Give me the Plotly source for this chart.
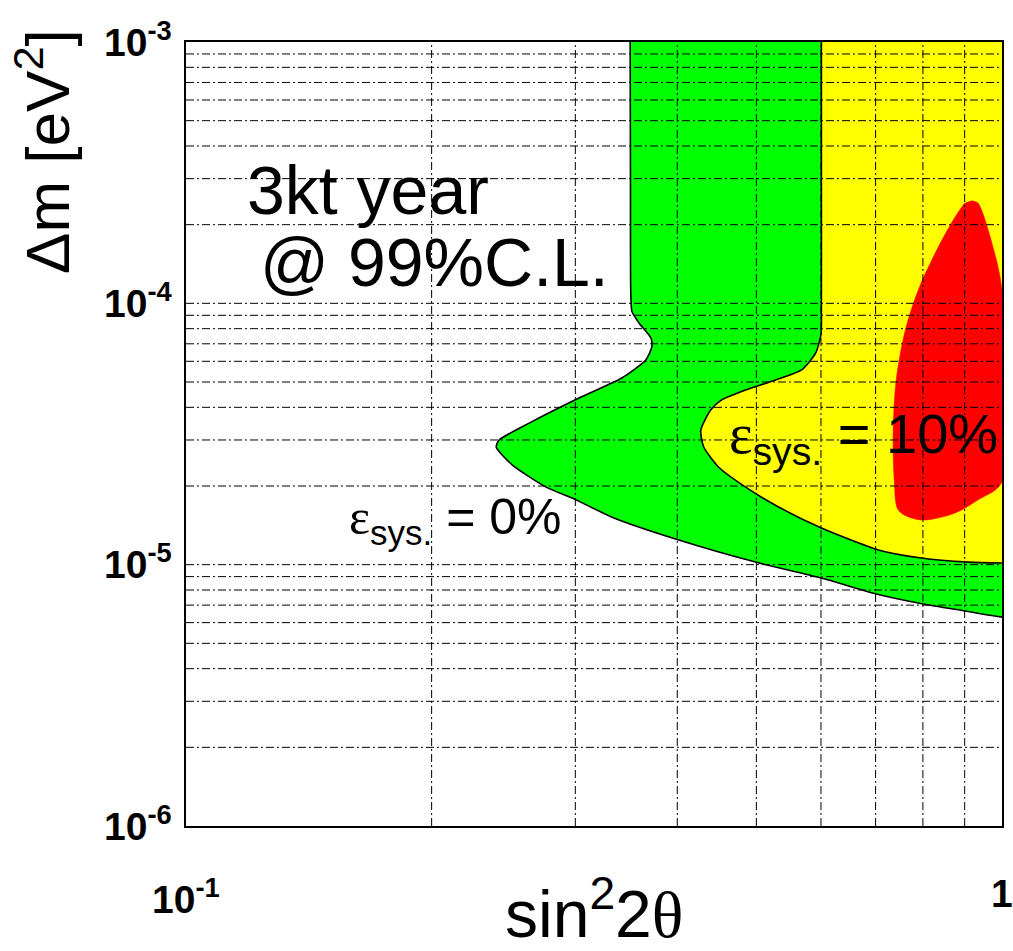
import numpy as np
import plotly.graph_objects as go

# Exclusion contours in the (sin^2 2theta, delta m^2) plane, 3 kt year, 99% C.L.
# 0% systematic error contour (green)
sys0_x = [0.350, 0.3505, 0.3508, 0.3520, 0.359, 0.3713, 0.3723, 0.366, 0.342, 0.3031,
          0.2634, 0.2420, 0.2400, 0.2510, 0.2763, 0.3006, 0.3327, 0.4018, 0.4989,
          0.6007, 0.7015, 0.8006, 0.9011, 1.0, 1.4, 1.4]
sys0_y = [2.0e-3, 3.0e-4, 1.10e-4, 9.3e-5, 8.41e-5, 7.37e-5, 6.81e-5, 6.07e-5, 5.18e-5,
          4.34e-5, 3.48e-5, 3.00e-5, 2.82e-5, 2.41e-5, 1.98e-5, 1.77e-5, 1.52e-5,
          1.243e-5, 1.023e-5, 8.89e-6, 7.72e-6, 7.07e-6, 6.65e-6, 6.30e-6, 6.0e-6, 2.0e-3]

# 10% systematic error contour (yellow)
sys10_x = [0.6007, 0.6007, 0.6007, 0.6000, 0.591, 0.568, 0.5278, 0.4851, 0.4534, 0.4395,
           0.4274, 0.4310, 0.4496, 0.4851, 0.5323, 0.6007, 0.7054, 0.7962, 0.9088,
           1.0, 1.4, 1.4]
sys10_y = [2.0e-3, 3.0e-4, 1.0e-4, 7.6e-5, 6.45e-5, 5.56e-5, 5.09e-5, 4.66e-5, 4.27e-5,
           3.91e-5, 3.27e-5, 2.82e-5, 2.36e-5, 1.98e-5, 1.662e-5, 1.381e-5, 1.138e-5,
           1.060e-5, 1.023e-5, 1.015e-5, 1.01e-5, 2.0e-3]

# Best-fit island (red)
best_x = [0.9165, 0.9330, 0.9426, 0.9696, 1.0, 1.0, 0.9348, 0.8760, 0.8051, 0.7742,
          0.7461, 0.7378, 0.7356, 0.7419, 0.7613, 0.7895, 0.8354, 0.8760, 0.900]
best_y = [2.47e-4, 2.43e-4, 2.30e-4, 1.747e-4, 1.124e-4, 2.072e-5, 1.77e-5, 1.576e-5,
          1.482e-5, 1.509e-5, 1.619e-5, 2.109e-5, 3.27e-5, 5.09e-5, 7.90e-5,
          1.124e-4, 1.642e-4, 2.14e-4, 2.42e-4]

# Axis ranges, grid and tick labels
x_range = [0.1, 1.0]
y_range = [1e-6, 1e-3]
x_grid = [0.2, 0.3, 0.4, 0.5, 0.6, 0.7, 0.8, 0.9]
y_grid = [m * 10.0 ** e for e in (-6, -5, -4) for m in range(1, 10)][1:]
x_tick_vals = [0.1, 1.0]
x_tick_text = ["10<sup>-1</sup>", "1"]
y_tick_vals = [1e-3, 1e-4, 1e-5, 1e-6]
y_tick_text = ["10<sup>-3</sup>", "10<sup>-4</sup>", "10<sup>-5</sup>", "10<sup>-6</sup>"]

SANS = "Liberation Sans, Arial, sans-serif"
GREEK = "font-family:'Liberation Serif', serif"

fig = go.Figure()

fig.add_trace(go.Scatter(x=sys0_x, y=sys0_y, mode="lines", fill="toself",
                         fillcolor="#00ff00", line=dict(color="black", width=1.6,
                         shape="spline", smoothing=0.6), hoverinfo="skip"))
fig.add_trace(go.Scatter(x=sys10_x, y=sys10_y, mode="lines", fill="toself",
                         fillcolor="#ffff00", line=dict(color="black", width=1.6,
                         shape="spline", smoothing=0.6), hoverinfo="skip"))
fig.add_trace(go.Scatter(x=best_x, y=best_y, mode="lines", fill="toself",
                         fillcolor="#ff0000", line=dict(color="#ff0000", width=0.5,
                         shape="spline", smoothing=0.9), hoverinfo="skip"))

# dash-dot grid drawn over the filled contours
gx, gy = [], []
for v in x_grid:
    gx += [v, v, None]
    gy += [y_range[0], y_range[1], None]
fig.add_trace(go.Scatter(x=gx, y=gy, mode="lines", hoverinfo="skip",
                         line=dict(color="black", width=1, dash="8px,3px,2px,3px")))
hx, hy = [], []
for v in y_grid:
    hx += [x_range[0], x_range[1], None]
    hy += [v, v, None]
fig.add_trace(go.Scatter(x=hx, y=hy, mode="lines", hoverinfo="skip",
                         line=dict(color="black", width=1, dash="8px,3px,2px,3px")))

annotations = []
for v, t in zip(y_tick_vals, y_tick_text):
    annotations.append(dict(xref="paper", x=0, yref="y", y=np.log10(v), text=t,
                            xanchor="right", yanchor="middle", xshift=-12, yshift=3,
                            showarrow=False,
                            font=dict(family=SANS, size=39, color="black", weight="bold")))
for v, t in zip(x_tick_vals, x_tick_text):
    annotations.append(dict(xref="x", x=np.log10(v), yref="paper", y=0, text=t,
                            xanchor="center", yanchor="top", yshift=-44,
                            showarrow=False,
                            font=dict(family=SANS, size=39, color="black", weight="bold")))

annotations += [
    dict(xref="paper", yref="paper", x=0.5, y=-0.106, text=f"sin<sup>2</sup>2<span style=\"{GREEK}\">θ</span>",
         xanchor="center", yanchor="middle", showarrow=False,
         font=dict(family=SANS, size=66, color="black")),
    dict(xref="paper", yref="paper", x=-0.175, y=0.86, text="Δm [eV<sup>2</sup>]",
         textangle=-90, xanchor="center", yanchor="middle", showarrow=False,
         font=dict(family=SANS, size=62, color="black")),
    dict(xref="paper", yref="paper", x=0.072, y=0.811, text="3kt year",
         xanchor="left", yanchor="middle", showarrow=False,
         font=dict(family=SANS, size=68, color="black")),
    dict(xref="paper", yref="paper", x=0.088, y=0.719, text="@ 99%C.L.",
         xanchor="left", yanchor="middle", showarrow=False,
         font=dict(family=SANS, size=68, color="black")),
    dict(xref="paper", yref="paper", x=0.197, y=0.39,
         text=f"<span style=\"{GREEK}\">ε</span><sub>sys.</sub> = 0%",
         xanchor="left", yanchor="middle", showarrow=False,
         font=dict(family=SANS, size=50, color="black")),
    dict(xref="paper", yref="paper", x=0.6626, y=0.496,
         text=f"<span style=\"{GREEK}\">ε</span><sub>sys.</sub> = 10%",
         xanchor="left", yanchor="middle", showarrow=False,
         font=dict(family=SANS, size=56, color="black")),
]

fig.update_layout(
    width=1013, height=951,
    margin=dict(l=186, r=9, t=42, b=125),
    paper_bgcolor="white", plot_bgcolor="white",
    showlegend=False,
    annotations=annotations,
    xaxis=dict(type="log", range=[np.log10(x_range[0]), np.log10(x_range[1])],
               showgrid=False, zeroline=False, showticklabels=False, ticks="",
               showline=True, linecolor="black", linewidth=2, mirror=True),
    yaxis=dict(type="log", range=[np.log10(y_range[0]), np.log10(y_range[1])],
               showgrid=False, zeroline=False, showticklabels=False, ticks="",
               showline=True, linecolor="black", linewidth=2, mirror=True),
)

fig.write_html("out.html")
